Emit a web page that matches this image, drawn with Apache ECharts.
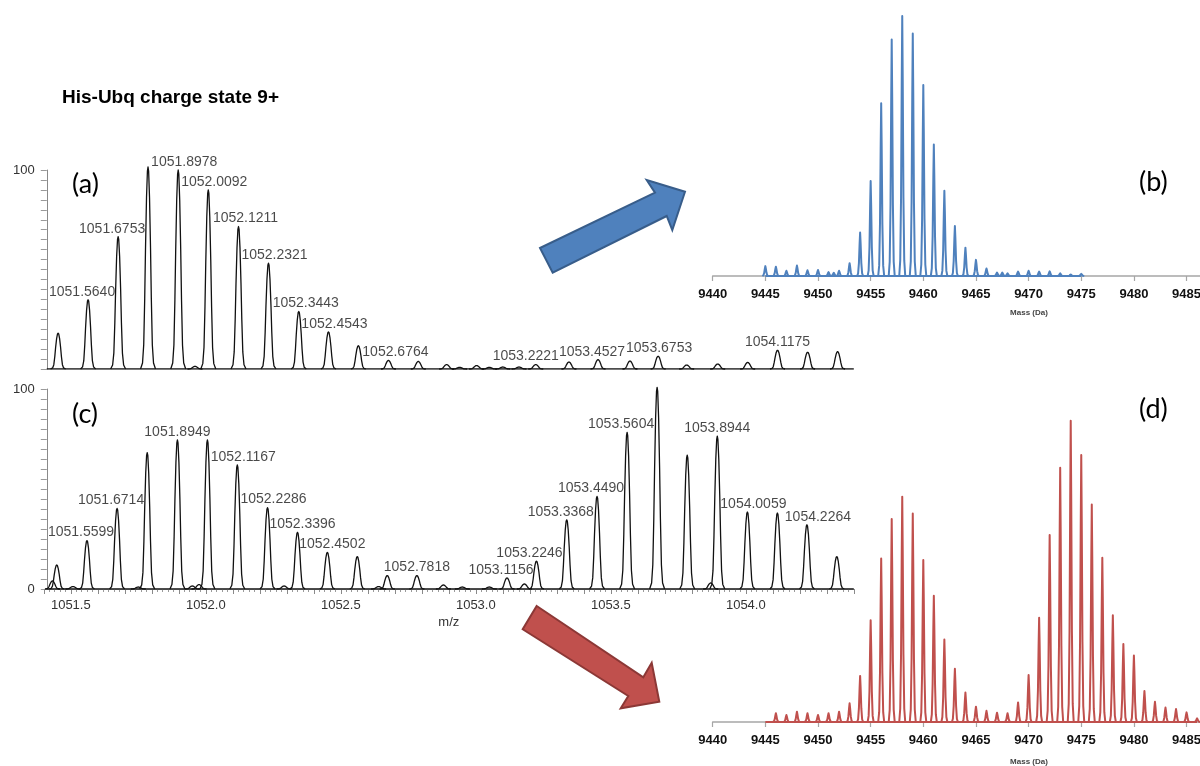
<!DOCTYPE html>
<html>
<head>
<meta charset="utf-8">
<script src="https://cdn.jsdelivr.net/npm/echarts@6/dist/echarts.min.js"></script>
<style>
  html, body { margin: 0; padding: 0; background: #fff; }
  #chart { width: 1200px; height: 766px; }
</style>
</head>
<body>
<div id="chart"></div>
<script>
// ---------- data ----------
const titleText = 'His-Ubq charge state 9+';
const panelTags = ['(a)', '(b)', '(c)', '(d)'];

// (a) 9+ isotope envelope, m/z and relative intensity (%)
const mzA  = [1051.453, 1051.5640, 1051.6753, 1051.786, 1051.8978, 1051.960, 1052.0092, 1052.1211, 1052.2321,
              1052.3443, 1052.4543, 1052.565, 1052.6764, 1052.787, 1052.892, 1052.940, 1053.003, 1053.050,
              1053.100, 1053.160, 1053.2221, 1053.345, 1053.4527, 1053.571, 1053.6753, 1053.781, 1053.896,
              1054.007, 1054.1175, 1054.229, 1054.340];
const intA = [18.0, 34.8, 66.5, 101.5, 100.0, 1.3, 90.0, 71.6, 53.2,
              28.9, 18.6, 11.7, 4.3, 3.8, 2.2, 0.8, 1.7, 0.8,
              1.0, 1.0, 2.2, 3.5, 4.7, 4.0, 6.4, 2.0, 2.5,
              3.3, 9.4, 8.4, 8.7];
const labeledA = [1051.5640, 1051.6753, 1051.8978, 1052.0092, 1052.1211, 1052.2321, 1052.3443, 1052.4543,
                  1052.6764, 1053.2221, 1053.4527, 1053.6753, 1054.1175];

// (c) 9+ envelope of the mixture, m/z and relative intensity (%)
const mzC  = [1051.432, 1051.448, 1051.508, 1051.5599, 1051.6714, 1051.750, 1051.783, 1051.8949, 1051.950,
              1051.975, 1052.006, 1052.1167, 1052.2286, 1052.290, 1052.3396, 1052.4502, 1052.561, 1052.640,
              1052.672, 1052.7818, 1052.880, 1052.950, 1053.050, 1053.1156, 1053.180, 1053.2246, 1053.3368,
              1053.4490, 1053.5604, 1053.6715, 1053.783, 1053.870, 1053.8944, 1054.0059, 1054.117, 1054.2264,
              1054.337];
const intC = [4.0, 12.0, 1.2, 24.2, 40.3, 1.0, 68.2, 74.5, 1.5,
              2.2, 74.5, 62.0, 40.7, 1.5, 28.3, 18.3, 16.2, 1.2,
              6.7, 6.7, 2.0, 1.0, 1.0, 5.5, 2.5, 13.9, 34.6,
              46.3, 78.3, 100.8, 66.9, 3.0, 76.4, 38.5, 38.0, 32.1,
              16.2];
const labeledC = [1051.5599, 1051.6714, 1051.8949, 1052.1167, 1052.2286, 1052.3396, 1052.4502, 1052.7818,
                  1053.1156, 1053.2246, 1053.3368, 1053.4490, 1053.5604, 1053.6715, 1053.8944, 1054.0059,
                  1054.2264];

// (b) deconvoluted mass spectrum of (a), mass (Da) and relative intensity (%)
const massB = [9445, 9446, 9447, 9448, 9449, 9450, 9451, 9451.5, 9452, 9453, 9454, 9455, 9456, 9457, 9458,
               9459, 9460, 9461, 9462, 9463, 9464, 9465, 9466, 9467, 9467.5, 9468, 9469, 9470, 9471, 9472,
               9473, 9474, 9475];
const intB  = [3.8, 3.6, 2.0, 4.0, 2.2, 2.3, 1.5, 1.2, 2.0, 4.9, 16.7, 36.5, 66.4, 91.0, 100.0,
               93.3, 73.5, 50.6, 32.8, 19.2, 10.9, 6.2, 2.9, 1.3, 1.3, 1.0, 1.7, 2.0, 1.7, 1.8,
               1.0, 0.6, 0.8];

// (d) deconvoluted mass spectrum of (c), mass (Da) and relative intensity (%)
const massD = [9446, 9447, 9448, 9449, 9450, 9451, 9452, 9453, 9454, 9455, 9456, 9457, 9458, 9459, 9460,
               9461, 9462, 9463, 9464, 9465, 9466, 9467, 9468, 9469, 9470, 9471, 9472, 9473, 9474, 9475,
               9476, 9477, 9478, 9479, 9480, 9481, 9482, 9483, 9484, 9485, 9486];
const intD  = [2.9, 2.3, 3.4, 2.9, 2.3, 2.9, 3.4, 6.2, 15.3, 33.8, 54.3, 67.4, 74.8, 69.2, 53.8,
               41.9, 27.4, 17.7, 9.8, 5.1, 3.7, 3.1, 2.9, 6.5, 15.6, 34.6, 62.1, 84.4, 100.0, 88.6,
               72.2, 54.5, 35.4, 25.9, 22.1, 10.3, 6.7, 4.8, 4.3, 3.2, 1.2];

// axis ranges
const mzMin = 1051.4, mzMax = 1054.4, mzStart = 1051.411;
const massMin = 9440, massMax = 9490, massStart = 9445;

// ---------- drawing ----------
const FONT = 'Liberation Sans, Arial, sans-serif';
const TAG_FONT = 'Lato, Open Sans, sans-serif';

// profile of one peak in pixels: [dx, fraction of apex height]
const msPeak = [[-7.5, 0], [-5.5, 0.03], [-4.3, 0.12], [-3.3, 0.35], [-2.5, 0.6], [-1.5, 0.85], [-0.6, 0.98], [0, 1],
                [0.6, 0.98], [1.5, 0.85], [2.5, 0.6], [3.3, 0.35], [4.3, 0.12], [5.5, 0.03], [7.5, 0]];
const deconvPeak = [[-3, 0], [-2, 0.06], [-1.2, 0.3], [-0.5, 0.75], [0, 1], [0.5, 0.75], [1.2, 0.3], [2, 0.06], [3, 0]];

// label nudges (px) so neighbouring annotations do not collide
const shiftA = [-6, -6, 6, 6, 7, 6, 7, 6, 7, -10, -6, 1, 0];
const shiftC = [-6, -6, 0, 6, 6, 5, 5, 0, -6, -7, -6, -6, -6, 0, 0, 6, 11];

function pairs(xs, ys) { return xs.map((x, i) => [x, ys[i]]); }

function peakSeries(gi, data, color, width, shape) {
  return {
    type: 'custom', xAxisIndex: gi, yAxisIndex: gi, data, clip: false, silent: true, z: 3,
    renderItem(params, api) {
      const top = api.coord([api.value(0), api.value(1)]);
      const base = api.coord([api.value(0), 0]);
      const h = base[1] - top[1];
      return {
        type: 'polyline',
        shape: { points: shape.map(([dx, f]) => [top[0] + dx, base[1] - f * h]) },
        style: { stroke: color, lineWidth: width, fill: null, lineJoin: 'round' }
      };
    }
  };
}

function baselineSeries(gi, from, to, color, width) {
  return {
    type: 'line', xAxisIndex: gi, yAxisIndex: gi, data: [[from, 0], [to, 0]], symbol: 'none', silent: true, z: 2,
    lineStyle: { color, width }
  };
}

function labelSeries(gi, mz, inten, marked, shifts) {
  return {
    type: 'scatter', xAxisIndex: gi, yAxisIndex: gi, symbolSize: 0, silent: true, z: 5,
    data: marked.map((m, i) => ({ value: [m, inten[mz.indexOf(m)]], label: { offset: [shifts[i], 0] } })),
    label: {
      show: true, position: 'top', distance: 1,
      formatter: p => p.value[0].toFixed(4),
      fontFamily: FONT, fontSize: 14, color: '#1a1a1a'
    }
  };
}

function msYAxis(gi, showZero) {
  return {
    type: 'value', gridIndex: gi, min: 0, max: 100, interval: 5, offset: -3,
    splitLine: { show: false },
    axisLine: { show: true, lineStyle: { color: '#8a8a8a', width: 1 } },
    axisTick: { show: true, length: 6, interval: 0, lineStyle: { color: '#9a9a9a' } },
    axisLabel: {
      interval: 0, margin: 12, fontFamily: FONT, fontSize: 13, color: '#333',
      formatter: v => (v === 100 ? '100' : (showZero && v === 0 ? '0' : ''))
    }
  };
}

function massXAxis(gi) {
  return {
    type: 'value', gridIndex: gi, min: massMin, max: massMax, interval: 5,
    splitLine: { show: false },
    axisLine: { show: true, onZero: false, lineStyle: { color: '#a6a6a6', width: 1.5 } },
    axisTick: { show: true, length: 5, lineStyle: { color: '#a6a6a6', width: 1.2 } },
    axisLabel: { margin: 12, fontFamily: FONT, fontSize: 13, fontWeight: 'bold', color: '#111',
                 formatter: v => String(v) }
  };
}

function arrow(points, fill, stroke) {
  return { type: 'polygon', shape: { points }, style: { fill, stroke, lineWidth: 2 }, z: 10 };
}

const gridBase = { outerBoundsMode: 'none', containLabel: false };

const option = {
  animation: false,
  backgroundColor: '#fff',
  grid: [
    Object.assign({ left: 43.8, width: 810, top: 170, height: 199 }, gridBase),      // (a)
    Object.assign({ left: 43.8, width: 810, top: 389, height: 200 }, gridBase),      // (c)
    Object.assign({ left: 712.7, width: 526.5, top: 16, height: 260 }, gridBase),    // (b)
    Object.assign({ left: 712.7, width: 526.5, top: 420.7, height: 301.3 }, gridBase) // (d)
  ],
  xAxis: [
    { type: 'value', gridIndex: 0, min: mzMin, max: mzMax, show: false },
    {
      type: 'value', gridIndex: 1, min: mzMin, max: mzMax, interval: 0.1,
      name: 'm/z', nameLocation: 'middle', nameGap: 27,
      nameTextStyle: { fontFamily: FONT, fontSize: 13, color: '#333' },
      splitLine: { show: false },
      axisLine: { show: true, onZero: false, lineStyle: { color: '#8a8a8a', width: 1 } },
      axisTick: { show: true, length: 5, lineStyle: { color: '#8a8a8a' } },
      minorTick: { show: true, splitNumber: 5, length: 3, lineStyle: { color: '#9a9a9a' } },
      axisLabel: {
        interval: 0, margin: 10, fontFamily: FONT, fontSize: 13, color: '#333',
        formatter: v => (Math.abs(v * 2 - Math.round(v * 2)) < 1e-6 ? v.toFixed(1) : '')
      }
    },
    massXAxis(2),
    massXAxis(3)
  ],
  yAxis: [
    msYAxis(0, false),
    msYAxis(1, true),
    { type: 'value', gridIndex: 2, min: 0, max: 100, show: false },
    { type: 'value', gridIndex: 3, min: 0, max: 100, show: false }
  ],
  series: [
    baselineSeries(0, mzStart, mzMax, '#111', 1.3),
    peakSeries(0, pairs(mzA, intA), '#111', 1.3, msPeak),
    labelSeries(0, mzA, intA, labeledA, shiftA),

    baselineSeries(1, mzStart, mzMax, '#111', 1.3),
    peakSeries(1, pairs(mzC, intC), '#111', 1.3, msPeak),
    labelSeries(1, mzC, intC, labeledC, shiftC),

    baselineSeries(2, massStart, massB[massB.length - 1], '#4f81bd', 2),
    peakSeries(2, pairs(massB, intB), '#4f81bd', 2, deconvPeak),

    baselineSeries(3, massStart, massD[massD.length - 1], '#c0504d', 2),
    peakSeries(3, pairs(massD, intD), '#c0504d', 2, deconvPeak)
  ],
  graphic: [
    { type: 'text', left: 62, top: 88, style: { text: titleText, font: 'bold 19px ' + FONT, fill: '#000' } },
    { type: 'text', left: 72, top: 171, style: { text: panelTags[0], font: '27px ' + TAG_FONT, fill: '#000' } },
    { type: 'text', left: 1139, top: 169, style: { text: panelTags[1], font: '27px ' + TAG_FONT, fill: '#000' } },
    { type: 'text', left: 72, top: 401, style: { text: panelTags[2], font: '27px ' + TAG_FONT, fill: '#000' } },
    { type: 'text', left: 1139, top: 396, style: { text: panelTags[3], font: '27px ' + TAG_FONT, fill: '#000' } },
    { type: 'text', x: 1029, y: 313, style: { text: 'Mass (Da)', font: 'bold 8px ' + FONT, fill: '#444', textAlign: 'center', textVerticalAlign: 'middle' } },
    { type: 'text', x: 1029, y: 762, style: { text: 'Mass (Da)', font: 'bold 8px ' + FONT, fill: '#444', textAlign: 'center', textVerticalAlign: 'middle' } },
    arrow([[540, 248], [655, 192.7], [646.7, 180], [685, 191.7], [672.3, 230], [666.7, 216], [552.7, 272.7]], '#4f81bd', '#385d8a'),
    arrow([[536.7, 606], [643.3, 677.3], [651.7, 662.7], [659.3, 701.7], [620.7, 708.3], [628.3, 696], [522.7, 629.3]], '#c0504d', '#8c3836')
  ]
};

const chart = echarts.init(document.getElementById('chart'));
chart.setOption(option);
</script>
</body>
</html>
